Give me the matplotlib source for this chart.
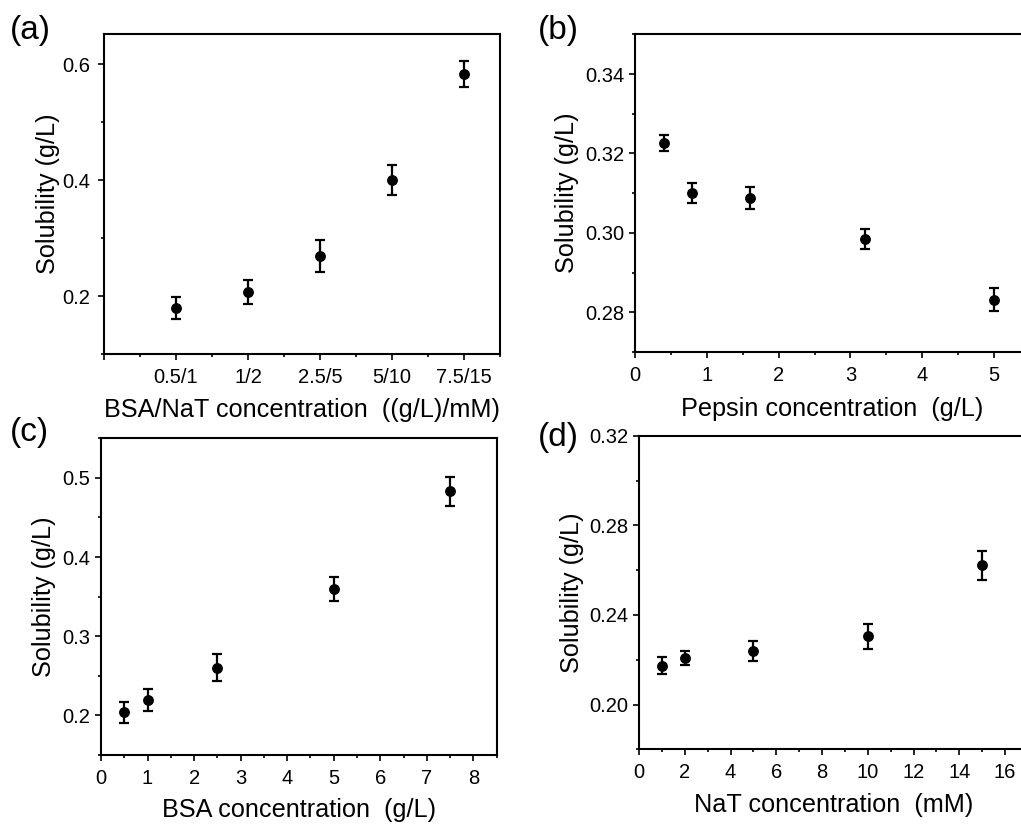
import matplotlib
matplotlib.use("Agg")
import matplotlib.pyplot as plt
from matplotlib.ticker import MultipleLocator, FixedLocator, FormatStrFormatter
import numpy as np

plt.rcParams['font.family'] = ['Liberation Sans', 'DejaVu Sans']

# ---- data ----
a_categories = ['0.5/1', '1/2', '2.5/5', '5/10', '7.5/15']
a_values = [0.179, 0.207, 0.269, 0.400, 0.583]
a_errors = [0.019, 0.021, 0.027, 0.026, 0.022]

b_pepsin = [0.4, 0.8, 1.6, 3.2, 5.0]
b_values = [0.3226, 0.3100, 0.3088, 0.2985, 0.2832]
b_errors = [0.0020, 0.0026, 0.0028, 0.0025, 0.0030]

c_bsa = [0.5, 1.0, 2.5, 5.0, 7.5]
c_values = [0.204, 0.219, 0.260, 0.360, 0.483]
c_errors = [0.013, 0.014, 0.017, 0.015, 0.018]

d_nat = [1, 2, 5, 10, 15]
d_values = [0.2174, 0.2207, 0.2238, 0.2304, 0.2622]
d_errors = [0.0038, 0.0030, 0.0044, 0.0057, 0.0065]

W, H = 1021, 824
fig = plt.figure(figsize=(W / 100, H / 100), dpi=100)


def px_axes(left, top, right, bottom):
    return fig.add_axes([left / W, 1 - bottom / H, (right - left) / W, (bottom - top) / H])


TICK_FS = 14.5
LABEL_FS = 18.2


def style(ax, ylab_off, xlab_off, ypad=3):
    for s in ax.spines.values():
        s.set_linewidth(1.5)
    ax.tick_params(which='major', direction='out', length=4.5, width=1.2,
                   labelsize=TICK_FS, pad=3)
    ax.tick_params(axis='x', which='major', pad=5.5)
    ax.tick_params(axis='y', which='major', pad=ypad)
    ax.tick_params(which='minor', direction='out', length=2.5, width=1.2)
    ax.set_ylabel('Solubility (g/L)', fontsize=LABEL_FS)
    ax.yaxis.set_label_coords(-ylab_off, 0.5)
    ax.xaxis.set_label_coords(0.5, -xlab_off)
    ax.xaxis.label.set_va('top')


def draw(ax, x, y, e):
    ax.errorbar(x, y, yerr=e, fmt='o', color='black', ms=6.8, capsize=3.5,
                elinewidth=1.6, capthick=1.6)


# (a)
axA = px_axes(104, 34, 500, 354)
xa = np.arange(1, len(a_categories) + 1)
draw(axA, xa, a_values, a_errors)
axA.set_xlim(0, 5.5)
axA.set_ylim(0.1, 0.652)
axA.xaxis.set_major_locator(FixedLocator([0] + list(xa)))
axA.set_xticklabels([''] + a_categories)
axA.xaxis.set_minor_locator(MultipleLocator(0.5))
axA.yaxis.set_major_locator(FixedLocator([0.2, 0.4, 0.6]))
axA.yaxis.set_minor_locator(MultipleLocator(0.1))
axA.yaxis.set_major_formatter(FormatStrFormatter('%.1f'))
axA.set_xlabel('BSA/NaT concentration  ((g/L)/mM)', fontsize=LABEL_FS)
style(axA, 44 / 396, 44 / 320, ypad=5.2)

# (b)
axB = px_axes(635, 34.3, 1030, 352)
draw(axB, b_pepsin, b_values, b_errors)
axB.set_xlim(0, 5.5)
axB.set_ylim(0.27, 0.35)
axB.xaxis.set_major_locator(FixedLocator([0, 1, 2, 3, 4, 5]))
axB.xaxis.set_minor_locator(MultipleLocator(0.5))
axB.yaxis.set_major_locator(FixedLocator([0.28, 0.30, 0.32, 0.34]))
axB.yaxis.set_minor_locator(MultipleLocator(0.01))
axB.yaxis.set_major_formatter(FormatStrFormatter('%.2f'))
axB.set_xlabel('Pepsin concentration  (g/L)', fontsize=LABEL_FS)
style(axB, 56 / 395, 45 / 317.7)

# (c)
axC = px_axes(101, 438.3, 496.7, 755)
draw(axC, c_bsa, c_values, c_errors)
axC.set_xlim(0, 8.5)
axC.set_ylim(0.15, 0.55)
axC.xaxis.set_major_locator(MultipleLocator(1))
axC.xaxis.set_minor_locator(MultipleLocator(0.5))
axC.yaxis.set_major_locator(FixedLocator([0.2, 0.3, 0.4, 0.5]))
axC.yaxis.set_minor_locator(MultipleLocator(0.05))
axC.yaxis.set_major_formatter(FormatStrFormatter('%.1f'))
axC.set_xlabel('BSA concentration  (g/L)', fontsize=LABEL_FS)
style(axC, 45 / 395.7, 43 / 316.7)

# (d)
axD = px_axes(639, 435.7, 1028, 749.3)
draw(axD, d_nat, d_values, d_errors)
axD.set_xlim(0, 17)
axD.set_ylim(0.18, 0.32)
axD.xaxis.set_major_locator(FixedLocator(list(range(0, 17, 2))))
axD.xaxis.set_minor_locator(MultipleLocator(1))
axD.yaxis.set_major_locator(FixedLocator([0.20, 0.24, 0.28, 0.32]))
axD.yaxis.set_minor_locator(MultipleLocator(0.02))
axD.yaxis.set_major_formatter(FormatStrFormatter('%.2f'))
axD.set_xlabel('NaT concentration  (mM)', fontsize=LABEL_FS)
style(axD, 55 / 389, 44 / 313.6)

# panel letters
PFS = 24
fig.text(10 / W, 1 - 31 / H, '(a)', fontsize=PFS, va='center', ha='left')
fig.text(538 / W, 1 - 31 / H, '(b)', fontsize=PFS, va='center', ha='left')
fig.text(10 / W, 1 - 432 / H, '(c)', fontsize=PFS, va='center', ha='left')
fig.text(538 / W, 1 - 437 / H, '(d)', fontsize=PFS, va='center', ha='left')

fig.savefig('out.png', dpi=100)
